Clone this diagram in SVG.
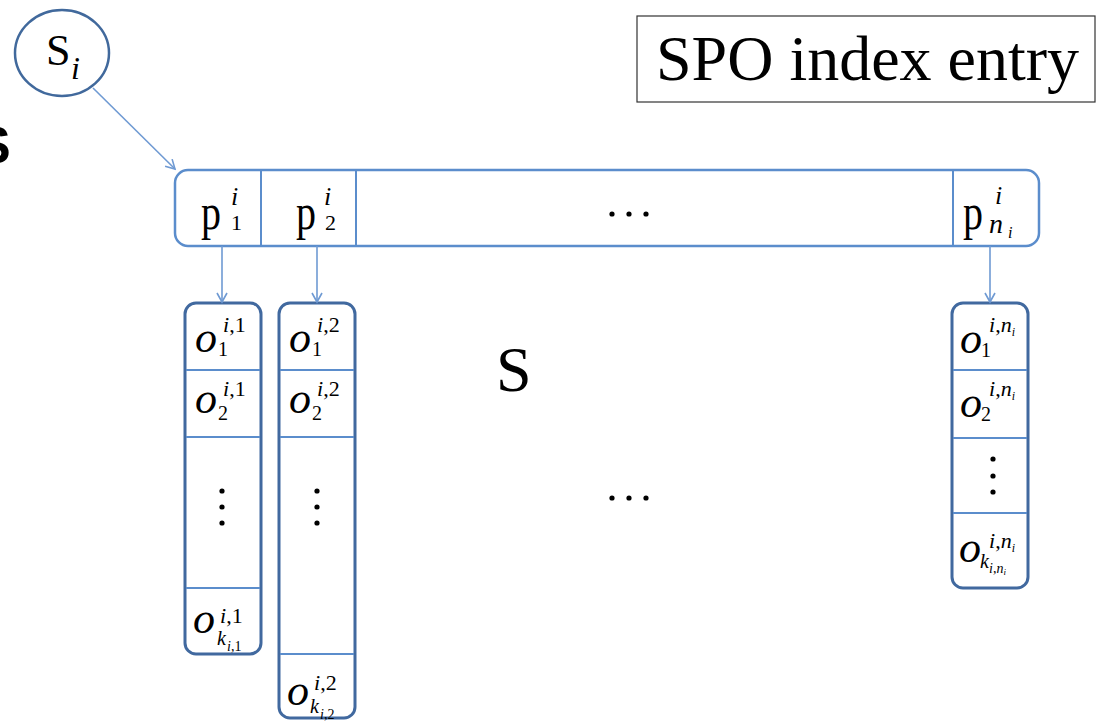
<svg xmlns="http://www.w3.org/2000/svg" width="1097" height="721" viewBox="0 0 1097 721">
<style>
.serif{font-family:"Liberation Serif","Times New Roman",serif;fill:#000}
.it{font-family:"Liberation Serif","Times New Roman",serif;font-style:italic;fill:#000}
.bar{fill:#fff;stroke:#5b8dcc;stroke-width:2.5}
.div{stroke:#5b8dcc;stroke-width:2}
.col{fill:#fff;stroke:#41699f;stroke-width:3}
.cdiv{stroke:#5b8dcc;stroke-width:2}
.conn{stroke:#6f9ad3;stroke-width:1.6;fill:none}
.dot{fill:#000}
</style>
<defs>
<marker id="arr" markerWidth="12" markerHeight="12" refX="10" refY="6" orient="auto" markerUnits="userSpaceOnUse">
<path d="M1,1 L10,6 L1,11" fill="none" stroke="#6f9ad3" stroke-width="1.6"/>
</marker>
</defs>
<rect width="1097" height="721" fill="#fff"/>

<text x="-24" y="163" font-family="Liberation Sans, Arial, sans-serif" font-weight="bold" font-size="52">S</text>

<g id="title">
<rect x="637" y="16" width="458" height="86" fill="#fff" stroke="#333" stroke-width="1.2"/>
<text class="serif" x="656" y="80" font-size="64">SPO index entry</text>
</g>

<g id="subject">
<ellipse cx="62" cy="53" rx="47" ry="43" fill="#fff" stroke="#41699c" stroke-width="2.5"/>
<text class="serif" x="46" y="65" font-size="44">S</text>
<text class="it" x="71" y="79" font-size="32">i</text>
</g>

<g id="predicates">
<rect class="bar" x="175" y="170" width="864" height="76" rx="13"/>
<line class="div" x1="261" y1="170" x2="261" y2="246"/>
<line class="div" x1="356" y1="170" x2="356" y2="246"/>
<line class="div" x1="953" y1="170" x2="953" y2="246"/>
<text class="serif" transform="translate(201,229) scale(0.8,1)" font-size="50">p</text>
<text class="it" x="231" y="205" font-size="26">i</text>
<text class="serif" x="231" y="230" font-size="22">1</text>
<text class="serif" transform="translate(296,229) scale(0.8,1)" font-size="50">p</text>
<text class="it" x="324" y="205" font-size="26">i</text>
<text class="serif" x="325" y="230" font-size="22">2</text>
<circle class="dot" cx="612" cy="214" r="2.6"/>
<circle class="dot" cx="629" cy="214" r="2.6"/>
<circle class="dot" cx="646" cy="214" r="2.6"/>
<text class="serif" transform="translate(963,229) scale(0.8,1)" font-size="50">p</text>
<text class="it" x="995" y="204" font-size="26">i</text>
<text class="it" x="989" y="233" font-size="28">n</text>
<text class="it" x="1008" y="238" font-size="16">i</text>
</g>

<g id="col1">
<rect class="col" x="185" y="303" width="76" height="351" rx="11"/>
<line class="cdiv" x1="186" y1="370" x2="260" y2="370"/>
<line class="cdiv" x1="186" y1="437" x2="260" y2="437"/>
<line class="cdiv" x1="186" y1="588" x2="260" y2="588"/>
<text class="it" x="195" y="352" font-size="44">o</text>
<text class="serif" x="218" y="356" font-size="20">1</text>
<text class="serif" x="223" y="332" font-size="22"><tspan font-style="italic">i</tspan>,1</text>
<text class="it" x="195" y="413" font-size="44">o</text>
<text class="serif" x="218" y="420" font-size="20">2</text>
<text class="serif" x="223" y="396" font-size="22"><tspan font-style="italic">i</tspan>,1</text>
<circle class="dot" cx="222" cy="491" r="2.6"/>
<circle class="dot" cx="222" cy="507" r="2.6"/>
<circle class="dot" cx="222" cy="523" r="2.6"/>
<text class="it" x="193" y="633" font-size="44">o</text>
<text class="serif" x="220" y="623" font-size="22"><tspan font-style="italic">i</tspan>,1</text>
<text class="it" x="217" y="645" font-size="20">k</text>
<text class="serif" x="227" y="651" font-size="14"><tspan font-style="italic">i</tspan>,1</text>
</g>

<g id="col2">
<rect class="col" x="279" y="303" width="76" height="415" rx="11"/>
<line class="cdiv" x1="280" y1="370" x2="354" y2="370"/>
<line class="cdiv" x1="280" y1="437" x2="354" y2="437"/>
<line class="cdiv" x1="280" y1="654" x2="354" y2="654"/>
<text class="it" x="289" y="352" font-size="44">o</text>
<text class="serif" x="312" y="356" font-size="20">1</text>
<text class="serif" x="317" y="332" font-size="22"><tspan font-style="italic">i</tspan>,2</text>
<text class="it" x="289" y="413" font-size="44">o</text>
<text class="serif" x="312" y="420" font-size="20">2</text>
<text class="serif" x="317" y="396" font-size="22"><tspan font-style="italic">i</tspan>,2</text>
<circle class="dot" cx="317" cy="491" r="2.6"/>
<circle class="dot" cx="317" cy="507" r="2.6"/>
<circle class="dot" cx="317" cy="523" r="2.6"/>
<text class="it" x="287" y="705" font-size="44">o</text>
<text class="serif" x="314" y="690" font-size="22"><tspan font-style="italic">i</tspan>,2</text>
<text class="it" x="310" y="713" font-size="20">k</text>
<text class="serif" x="320" y="719" font-size="14"><tspan font-style="italic">i</tspan>,2</text>
</g>

<g id="col3">
<rect class="col" x="952" y="303" width="76" height="285" rx="11"/>
<line class="cdiv" x1="953" y1="370" x2="1027" y2="370"/>
<line class="cdiv" x1="953" y1="438" x2="1027" y2="438"/>
<line class="cdiv" x1="953" y1="513" x2="1027" y2="513"/>
<text class="it" x="960" y="353" font-size="44">o</text>
<text class="serif" x="981" y="357" font-size="20">1</text>
<text class="serif" x="989" y="332" font-size="22"><tspan font-style="italic">i</tspan>,<tspan font-style="italic">n</tspan><tspan font-style="italic" font-size="12" dy="4">i</tspan></text>
<text class="it" x="960" y="417" font-size="44">o</text>
<text class="serif" x="981" y="421" font-size="20">2</text>
<text class="serif" x="989" y="396" font-size="22"><tspan font-style="italic">i</tspan>,<tspan font-style="italic">n</tspan><tspan font-style="italic" font-size="12" dy="4">i</tspan></text>
<circle class="dot" cx="993" cy="459" r="2.6"/>
<circle class="dot" cx="993" cy="476" r="2.6"/>
<circle class="dot" cx="993" cy="492" r="2.6"/>
<text class="it" x="959" y="562" font-size="44">o</text>
<text class="serif" x="989" y="548" font-size="22"><tspan font-style="italic">i</tspan>,<tspan font-style="italic">n</tspan><tspan font-style="italic" font-size="12" dy="4">i</tspan></text>
<text class="it" x="980" y="568" font-size="20">k</text>
<text class="serif" x="989" y="573" font-size="14"><tspan font-style="italic">i</tspan>,<tspan font-style="italic">n</tspan><tspan font-style="italic" font-size="9" dy="2">i</tspan></text>
</g>

<g id="labels">
<text class="serif" x="496" y="391" font-size="64">S</text>
<circle class="dot" cx="612" cy="498" r="2.6"/>
<circle class="dot" cx="629" cy="498" r="2.6"/>
<circle class="dot" cx="646" cy="498" r="2.6"/>
</g>

<g id="connectors">
<line class="conn" x1="93" y1="88" x2="175" y2="169" marker-end="url(#arr)"/>
<line class="conn" x1="222" y1="246" x2="222" y2="302" marker-end="url(#arr)"/>
<line class="conn" x1="317" y1="246" x2="317" y2="302" marker-end="url(#arr)"/>
<line class="conn" x1="990" y1="246" x2="990" y2="302" marker-end="url(#arr)"/>
</g>
</svg>
